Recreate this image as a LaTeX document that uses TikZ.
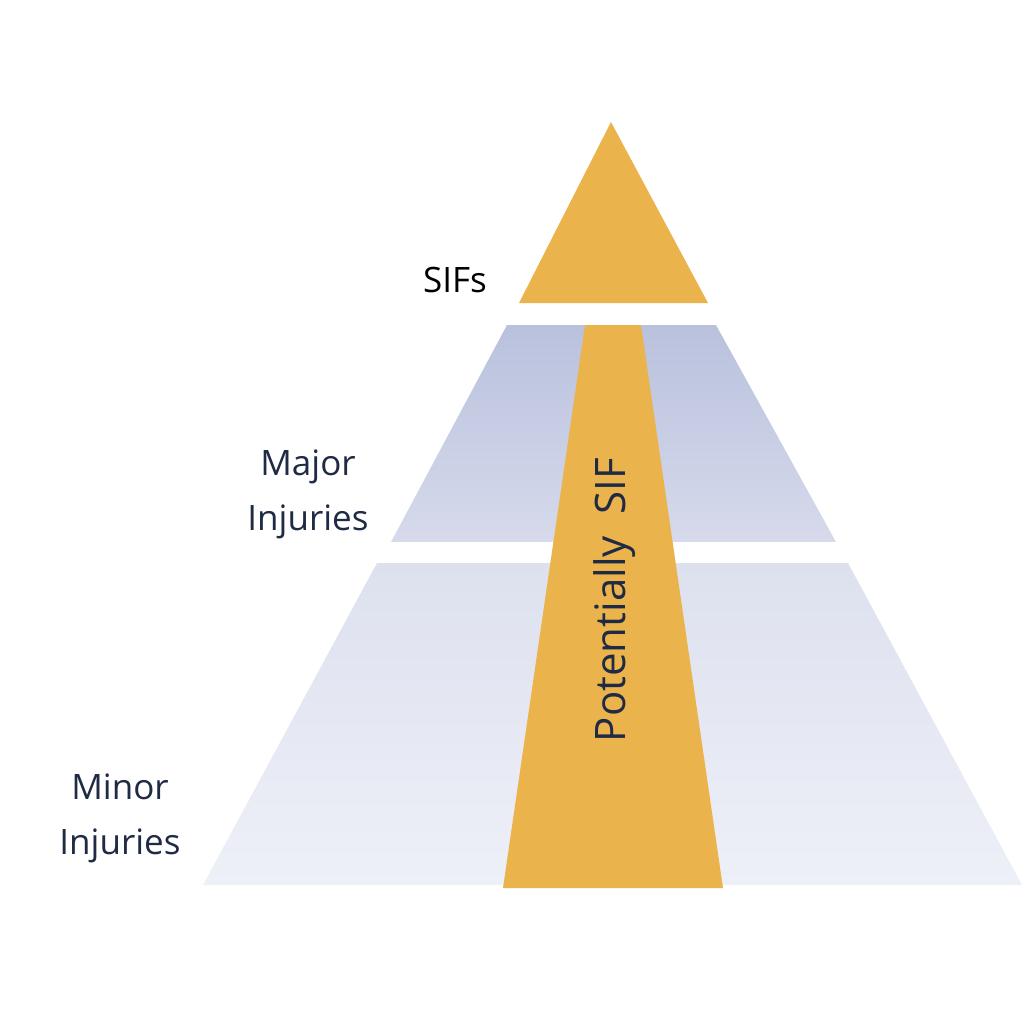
\documentclass[tikz,border=0pt]{standalone}
\usepackage{fontspec}
\setmainfont{Open Sans}
\definecolor{orng}{HTML}{EBB34C}
\definecolor{navy}{HTML}{1F2A44}
\definecolor{bA}{HTML}{B9C1DD}
\definecolor{bB}{HTML}{D6DAEB}
\definecolor{bC}{HTML}{DDE1EE}
\definecolor{bD}{HTML}{EEF0F8}
\tikzset{lbl/.style={font=\fontsize{35}{55}\selectfont,text=navy,align=center}}
\begin{document}
\begin{tikzpicture}[x=1pt,y=-1pt]
\useasboundingbox (0,0) rectangle (1024,1024);
\fill[orng] (611,122) -- (708,303) -- (519,303) -- cycle;
\shade[top color=bA,bottom color=bB] (507,325) -- (716,325) -- (836,542) -- (391,542) -- cycle;
\shade[top color=bC,bottom color=bD] (377,563) -- (848,563) -- (1022,885) -- (203,885) -- cycle;
\fill[white] (300,542) rectangle (900,563);
\fill[orng] (585,325) -- (641,325) -- (723,888) -- (503,888) -- cycle;
\node[lbl,text=black] (sifs) at (455,280) {SIFs};
\node[lbl] (major) at (308,494) {Major\\Injuries};
\node[lbl] (minor) at (120,818) {Minor\\Injuries};
\node[lbl,font=\fontsize{42}{50}\selectfont,rotate=90] (pot) at (615,600) {Potentially\ \ SIF};
\end{tikzpicture}
\end{document}
